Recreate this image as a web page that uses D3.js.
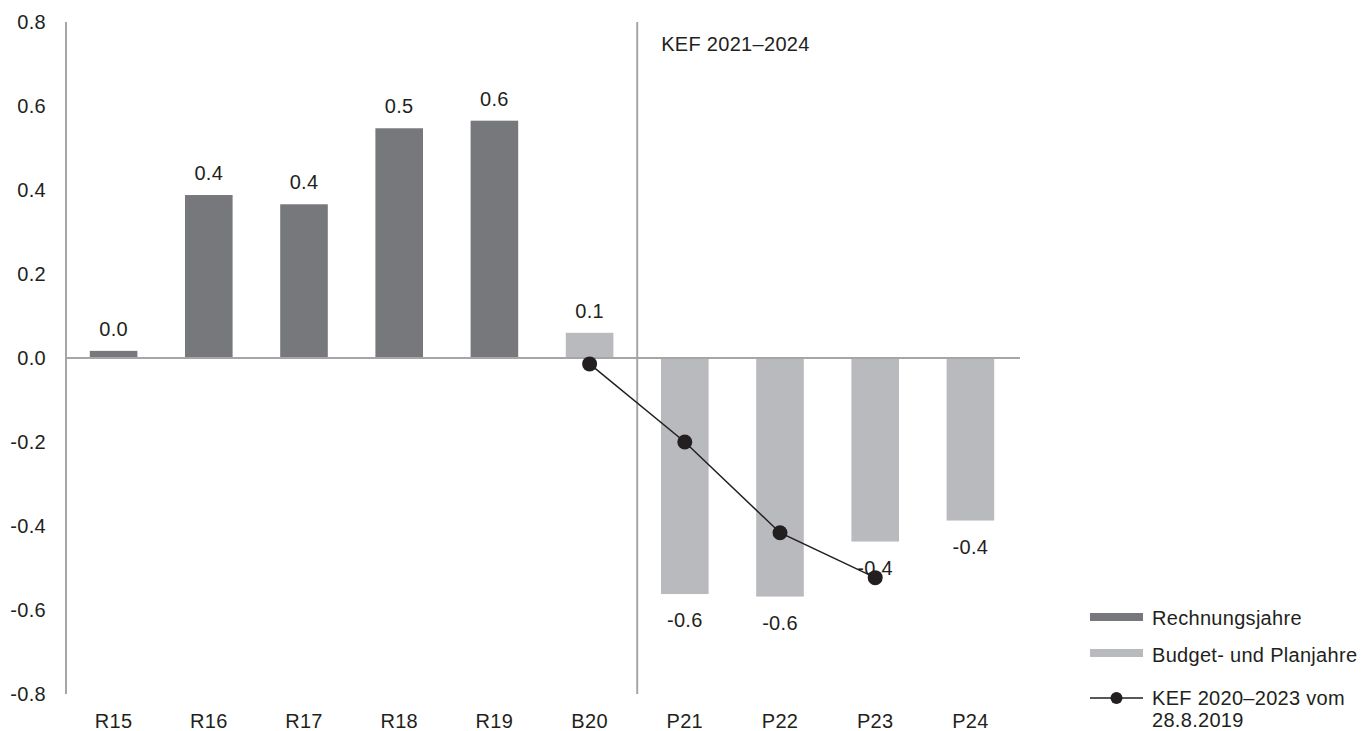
<!DOCTYPE html>
<html>
<head>
<meta charset="utf-8">
<script src="https://cdn.jsdelivr.net/npm/d3@7"></script>
<style>
  body { margin: 0; background: #fff; }
  svg { display: block; }
  text { font-family: "Liberation Sans", Arial, Helvetica, sans-serif; fill: #231f20; letter-spacing: 0.3px; }
</style>
</head>
<body>
<svg id="chart" width="1365" height="731"></svg>
<script>
const categories = ["R15","R16","R17","R18","R19","B20","P21","P22","P23","P24"];
const barValues = [0.017, 0.388, 0.366, 0.547, 0.565, 0.060, -0.562, -0.568, -0.437, -0.387];
const barLabels = ["0.0","0.4","0.4","0.5","0.6","0.1","-0.6","-0.6","-0.4","-0.4"];
const barKinds = ["R","R","R","R","R","B","B","B","B","B"];
const kefCategories = ["B20","P21","P22","P23"];
const kefValues = [-0.014, -0.200, -0.416, -0.523];
const yTicks = [0.8, 0.6, 0.4, 0.2, 0.0, -0.2, -0.4, -0.6, -0.8];
const yTickLabels = ["0.8", "0.6", "0.4", "0.2", "0.0", "-0.2", "-0.4", "-0.6", "-0.8"];
const legendLabels = ["Rechnungsjahre", "Budget- und Planjahre", ["KEF 2020–2023 vom", "28.8.2019"]];
const sectionLabel = "KEF 2021–2024";

const colors = { R: "#77787c", B: "#b9babe", axis: "#a6a6a9", line: "#231f20" };
const fontSize = 20;

const svg = d3.select("#chart");
const x = d3.scaleBand().domain(categories).range([66, 1018]).paddingInner(0.5).paddingOuter(0.25);
const y = d3.scaleLinear().domain([-0.8, 0.8]).range([694, 22]);

// y axis labels
const yAxis = d3.axisLeft(y).tickValues(yTicks).tickSize(0).tickPadding(20)
  .tickFormat((d, i) => yTickLabels[i]);
const gy = svg.append("g").attr("transform", "translate(66,0)").call(yAxis);
gy.select(".domain").remove();
gy.selectAll("text").style("font-size", fontSize + "px").attr("fill", "#231f20")
  .style("font-family", '"Liberation Sans", Arial, sans-serif');
svg.append("line").attr("x1", 66).attr("x2", 66).attr("y1", y(0.8)).attr("y2", y(-0.8))
  .attr("stroke", colors.axis).attr("stroke-width", 2);

// x axis labels
const xAxis = d3.axisBottom(x).tickSize(0).tickPadding(0);
const gx = svg.append("g").attr("transform", "translate(0,714)").call(xAxis);
gx.select(".domain").remove();
gx.selectAll("text").style("font-size", fontSize + "px").attr("fill", "#231f20")
  .style("font-family", '"Liberation Sans", Arial, sans-serif');

// bars
svg.append("g").selectAll("rect").data(categories).join("rect")
  .attr("x", d => x(d))
  .attr("width", x.bandwidth())
  .attr("y", (d, i) => y(Math.max(0, barValues[i])))
  .attr("height", (d, i) => Math.abs(y(barValues[i]) - y(0)))
  .attr("fill", (d, i) => colors[barKinds[i]]);

// zero line
svg.append("line").attr("x1", 66).attr("x2", 1020).attr("y1", y(0)).attr("y2", y(0))
  .attr("stroke", colors.axis).attr("stroke-width", 2);

// separator
const sepX = x("B20") + x.bandwidth() + (x.step() - x.bandwidth()) / 2;
svg.append("line").attr("x1", sepX).attr("x2", sepX).attr("y1", y(0.8)).attr("y2", y(-0.8))
  .attr("stroke", colors.axis).attr("stroke-width", 2);
svg.append("text").attr("x", sepX + 24).attr("y", 51).style("font-size", fontSize + "px").text(sectionLabel);

// value labels
svg.append("g").selectAll("text").data(categories).join("text")
  .attr("x", d => x(d) + x.bandwidth() / 2)
  .attr("y", (d, i) => barValues[i] >= 0 ? y(barValues[i]) - 15 : y(barValues[i]) + 33)
  .attr("text-anchor", "middle")
  .style("font-size", fontSize + "px")
  .text((d, i) => barLabels[i]);

// KEF line
const line = d3.line().x((d, i) => x(kefCategories[i]) + x.bandwidth() / 2).y(d => y(d));
svg.append("path").datum(kefValues).attr("d", line).attr("fill", "none")
  .attr("stroke", colors.line).attr("stroke-width", 1.5);
svg.append("g").selectAll("circle").data(kefValues).join("circle")
  .attr("cx", (d, i) => x(kefCategories[i]) + x.bandwidth() / 2)
  .attr("cy", d => y(d)).attr("r", 7.5).attr("fill", colors.line);

// legend
const lg = svg.append("g");
lg.append("rect").attr("x", 1090).attr("y", 613).attr("width", 53).attr("height", 8).attr("fill", colors.R);
lg.append("text").attr("x", 1152).attr("y", 625).style("font-size", fontSize + "px").text(legendLabels[0]);
lg.append("rect").attr("x", 1090).attr("y", 649).attr("width", 53).attr("height", 8).attr("fill", colors.B);
lg.append("text").attr("x", 1152).attr("y", 662).style("font-size", fontSize + "px").text(legendLabels[1]);
lg.append("line").attr("x1", 1090).attr("x2", 1143).attr("y1", 698).attr("y2", 698)
  .attr("stroke", colors.line).attr("stroke-width", 1.5);
lg.append("circle").attr("cx", 1116.5).attr("cy", 698).attr("r", 6).attr("fill", colors.line);
lg.append("text").attr("x", 1152).attr("y", 705).style("font-size", fontSize + "px").text(legendLabels[2][0]);
lg.append("text").attr("x", 1152).attr("y", 727).style("font-size", fontSize + "px").text(legendLabels[2][1]);
</script>
</body>
</html>
